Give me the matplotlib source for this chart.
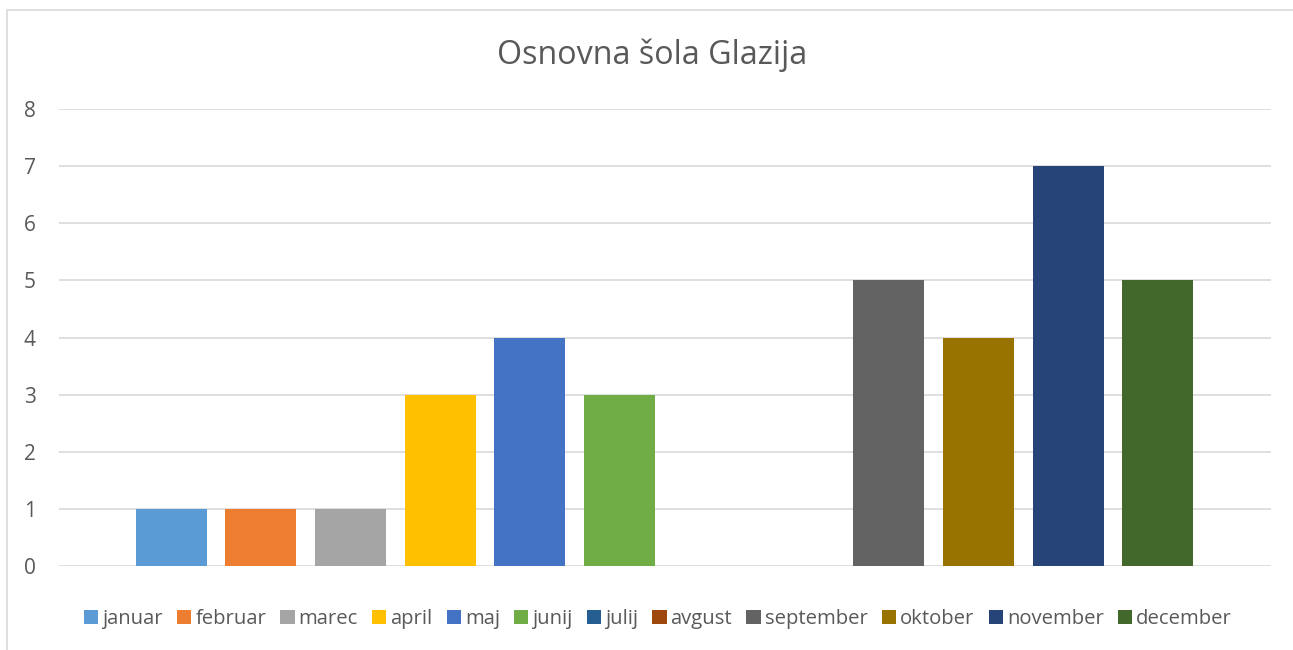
import matplotlib
matplotlib.use("Agg")
import matplotlib.pyplot as plt
from matplotlib.patches import Rectangle, Patch

plt.rcParams['font.family'] = ['Open Sans', 'DejaVu Sans']

title = "Osnovna šola Glazija"
months = ["januar", "februar", "marec", "april", "maj", "junij", "julij",
          "avgust", "september", "oktober", "november", "december"]
values = [1, 1, 1, 3, 4, 3, 0, 0, 5, 4, 7, 5]
colors = ["#5B9BD5", "#ED7D31", "#A5A5A5", "#FFC000", "#4472C4", "#70AD47",
          "#255E91", "#9E480E", "#636363", "#997300", "#264478", "#43682B"]
yticks = [0, 1, 2, 3, 4, 5, 6, 7, 8]

W, H = 1293, 650
fig = plt.figure(figsize=(W / 100, H / 100), dpi=100)
fig.patch.set_facecolor("white")

# chart border
fig.add_artist(Rectangle((7 / W, -0.1), 1.2, 1 - 10 / H + 0.1,
                         transform=fig.transFigure, fill=False,
                         edgecolor="#D9D9D9", linewidth=1.2))

left, right = 59 / W, 1271 / W
bottom, top = 1 - 566 / H, 1 - 109 / H
ax = fig.add_axes([left, bottom, right - left, top - bottom])

x = list(range(len(months)))
bw = 71 / 89.6
ax.bar(x, values, width=bw, color=colors, zorder=3)

ax.set_ylim(0, 8)
ax.set_xlim(-(171 - 59) / 89.6, 11 + (1271 - 1158) / 89.6)
ax.set_yticks(yticks)
ax.set_xticks([])
ax.yaxis.grid(True, color="#D9D9D9", linewidth=1.2, zorder=0)
for s in ax.spines.values():
    s.set_visible(False)
ax.tick_params(axis="y", length=0, labelsize=15, labelcolor="#595959", pad=21)
for lab in ax.get_yticklabels():
    lab.set_horizontalalignment("center")

fig.text(652 / W, 1 - 55 / H, title, ha="center", va="center",
         fontsize=23.2, color="#595959")

handles = [Patch(facecolor=c, edgecolor="none") for c in colors]
fig.legend(handles, months, loc="center", bbox_to_anchor=(658 / W, 1 - 619 / H),
           ncol=12, frameon=False, fontsize=14.6, labelcolor="#595959",
           handlelength=0.7, handleheight=0.7, handletextpad=0.2,
           columnspacing=0.7, borderaxespad=0)

fig.savefig("out.png", dpi=100, facecolor="white")
